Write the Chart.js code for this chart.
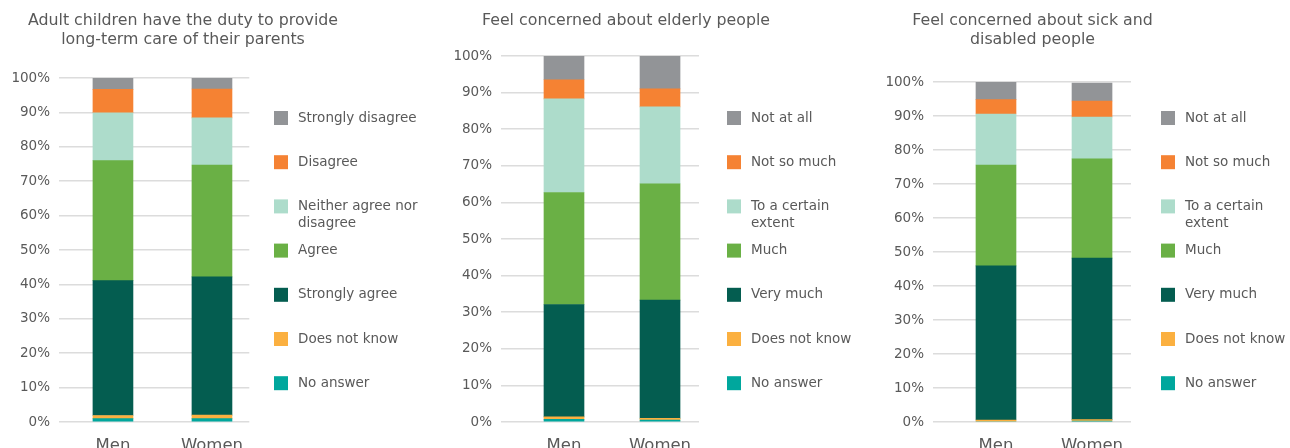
<!DOCTYPE html>
<html>
<head>
<meta charset="utf-8">
<script src="https://cdn.jsdelivr.net/npm/chart.js@4/dist/chart.umd.min.js"></script>
<style>
  html, body { margin: 0; padding: 0; background: #ffffff; }
  #wrap { position: relative; width: 1290px; height: 448px; overflow: hidden; }
  canvas { position: absolute; top: 0; }
</style>
</head>
<body>
<div id="wrap">
  <canvas id="c1" width="430" height="448" style="left:0px"></canvas>
  <canvas id="c2" width="440" height="448" style="left:430px"></canvas>
  <canvas id="c3" width="420" height="448" style="left:870px"></canvas>
</div>
<script>
// Categories and tick labels
const categories = ['Men', 'Women'];
const yTicks = [0, 10, 20, 30, 40, 50, 60, 70, 80, 90, 100];

// Panel titles
const title1 = ['Adult children have the duty to provide', 'long-term care of their parents'];
const title2 = ['Feel concerned about elderly people'];
const title3 = ['Feel concerned about sick and', 'disabled people'];

// Answer labels, bottom of the stack first ("\n" breaks a legend line)
const answers1 = ['No answer', 'Does not know', 'Strongly agree', 'Agree', 'Neither agree nor\ndisagree', 'Disagree', 'Strongly disagree'];
const answers2 = ['No answer', 'Does not know', 'Very much', 'Much', 'To a certain\nextent', 'Not so much', 'Not at all'];
const answers3 = answers2;

// Shares (%) per answer: [Men, Women]
// Adult children have the duty to provide long-term care of their parents
const p1NoAnswer   = [1.0, 1.0];
const p1DontKnow   = [0.9, 1.0];
const p1StrAgree   = [39.2, 40.2];
const p1Agree      = [34.9, 32.5];
const p1Neither    = [13.9, 13.7];
const p1Disagree   = [6.8, 8.4];
const p1StrDisagr  = [3.3, 3.2];
// Feel concerned about elderly people
const p2NoAnswer   = [0.7, 0.5];
const p2DontKnow   = [0.7, 0.5];
const p2VeryMuch   = [30.7, 32.3];
const p2Much       = [30.6, 31.8];
const p2Certain    = [25.6, 21.0];
const p2NotSoMuch  = [5.2, 4.9];
const p2NotAtAll   = [6.5, 9.0];
// Feel concerned about sick and disabled people
const p3NoAnswer   = [0.0, 0.3];
const p3DontKnow   = [0.6, 0.4];
const p3VeryMuch   = [45.3, 47.5];
const p3Much       = [29.7, 29.2];
const p3Certain    = [15.0, 12.3];
const p3NotSoMuch  = [4.2, 4.7];
const p3NotAtAll   = [5.2, 5.3];

// Palette, bottom of the stack first
const palette = ['#00a79d', '#fbb040', '#045d50', '#6ab045', '#addccb', '#f58233', '#929497'];

const FONT = "'DejaVu Sans', sans-serif";
const TEXT = '#595959';
Chart.defaults.font.family = FONT;
Chart.defaults.color = TEXT;

// Draws the wrapped title and the square-swatch legend beside the plot
const sidePlugin = {
  id: 'sideLegend',
  afterDraw(chart) {
    const o = chart.options.plugins.sideLegend;
    const ctx = chart.ctx;
    ctx.save();
    ctx.fillStyle = TEXT;
    ctx.textAlign = 'center';
    ctx.textBaseline = 'middle';
    ctx.font = '15.8px ' + FONT;
    o.title.forEach((line, i) => ctx.fillText(line, o.titleX, 20.7 + i * 19.3));

    const sets = chart.data.datasets.slice().reverse();
    ctx.textAlign = 'left';
    ctx.font = '13.5px ' + FONT;
    sets.forEach((ds, i) => {
      const cy = 118 + i * 44.2;
      ctx.fillStyle = ds.backgroundColor;
      ctx.fillRect(o.legendX, cy - 7, 14, 14);
      ctx.fillStyle = TEXT;
      ds.label.split('\n').forEach((line, j) => ctx.fillText(line, o.legendX + 24, cy + j * 17));
    });
    ctx.restore();
  }
};

function makePanel(id, title, answers, series, geo) {
  const datasets = series.map((vals, k) => ({
    label: answers[k],
    data: vals.map((v, i) => ({ x: i, y: v })),
    backgroundColor: palette[k],
    borderWidth: 0,
    barThickness: 40
  }));
  return new Chart(document.getElementById(id), {
    type: 'bar',
    data: { datasets },
    plugins: [sidePlugin],
    options: {
      responsive: false,
      animation: false,
      layout: { padding: { left: 0, right: geo.padRight, top: geo.top, bottom: 0 } },
      plugins: {
        legend: { display: false },
        tooltip: { enabled: false },
        sideLegend: { title, titleX: geo.titleX, legendX: geo.legendX }
      },
      scales: {
        x: {
          type: 'linear',
          stacked: true,
          offset: false,
          min: -geo.lead,
          max: categories.length - 1 + geo.trail,
          grid: { display: false },
          border: { display: false },
          afterBuildTicks: s => { s.ticks = categories.map((_, i) => ({ value: i })); },
          afterFit: s => { s.height = 26; },
          ticks: {
            padding: 6,
            maxRotation: 0,
            autoSkip: false,
            color: TEXT,
            font: { size: 16.5 },
            callback: v => categories[v]
          }
        },
        y: {
          stacked: true,
          min: 0,
          max: 100,
          afterBuildTicks: s => { s.ticks = yTicks.map(v => ({ value: v })); },
          afterFit: s => { s.width = geo.axisW; },
          grid: { color: '#dcdcdc', lineWidth: 1.5, drawTicks: false },
          border: { display: false },
          ticks: {
            padding: 9,
            color: TEXT,
            font: { size: 13.5 },
            callback: v => v + '%'
          }
        }
      }
    }
  });
}

makePanel('c1', title1, answers1,
  [p1NoAnswer, p1DontKnow, p1StrAgree, p1Agree, p1Neither, p1Disagree, p1StrDisagr],
  { axisW: 59, padRight: 180.7, top: 78, lead: 0.545, trail: 0.377, titleX: 183, legendX: 274 });
makePanel('c2', title2, answers2,
  [p2NoAnswer, p2DontKnow, p2VeryMuch, p2Much, p2Certain, p2NotSoMuch, p2NotAtAll],
  { axisW: 71, padRight: 171, top: 56, lead: 0.656, trail: 0.406, titleX: 196, legendX: 297 });
makePanel('c3', title3, answers3,
  [p3NoAnswer, p3DontKnow, p3VeryMuch, p3Much, p3Certain, p3NotSoMuch, p3NotAtAll],
  { axisW: 63, padRight: 159, top: 82, lead: 0.656, trail: 0.406, titleX: 162.5, legendX: 291 });
</script>
</body>
</html>
